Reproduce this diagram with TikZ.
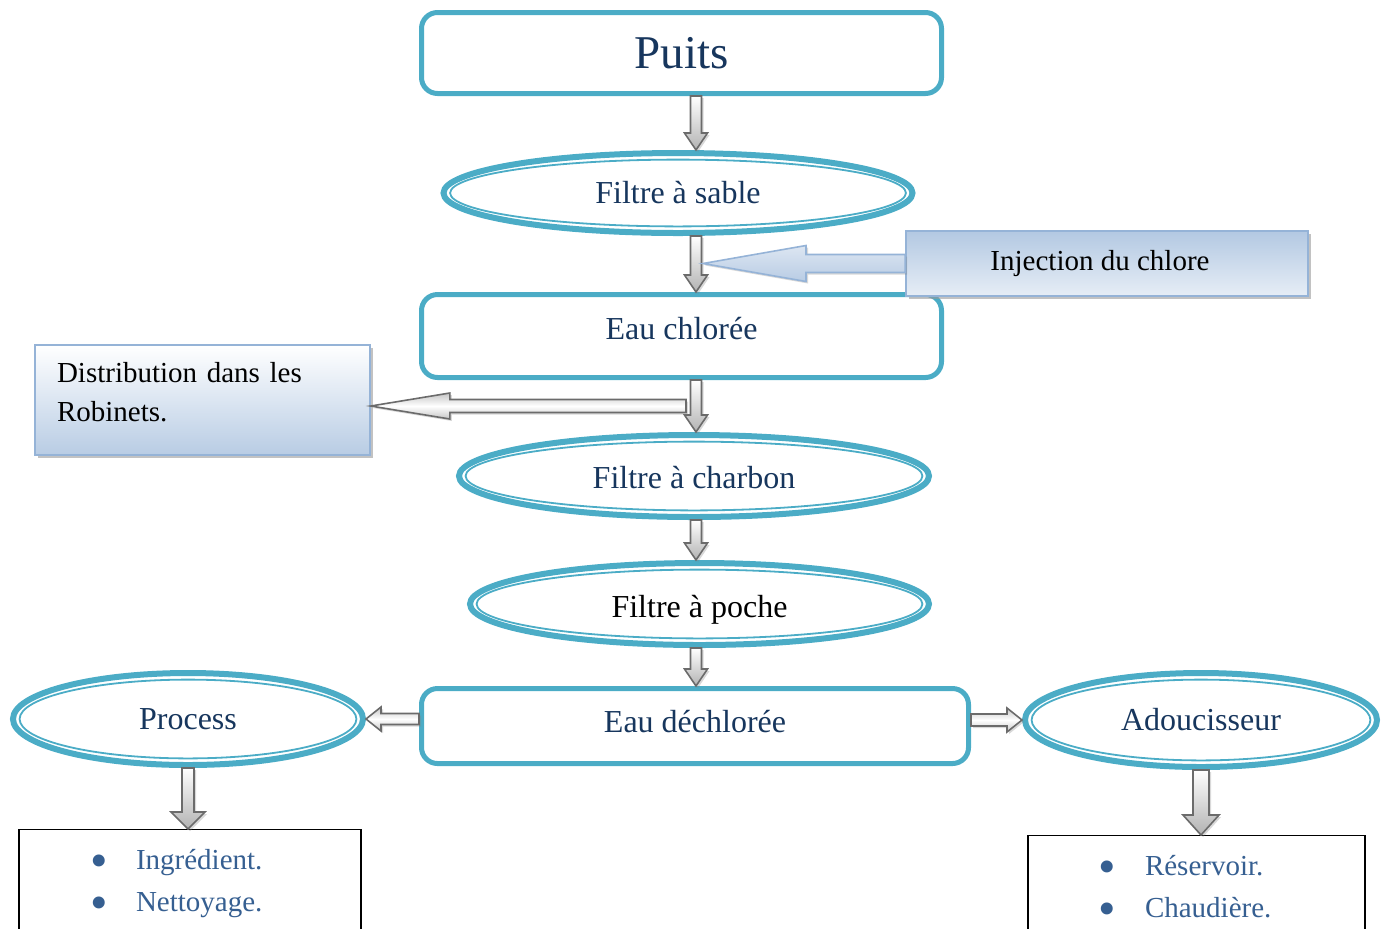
\documentclass[tikz,border=0pt]{standalone}
\usepackage{fontspec}
\setmainfont{Liberation Serif}
\usetikzlibrary{shapes.geometric,calc,shadows}
\definecolor{lineblue}{HTML}{4BACC6}
\definecolor{navytext}{HTML}{17365D}
\definecolor{listtext}{HTML}{365F91}
\definecolor{frameblue}{HTML}{95B3D7}
\definecolor{paleblue}{HTML}{DCE6F2}
\definecolor{midblue}{HTML}{B8CCE4}
\definecolor{arrowedge}{HTML}{6B6B6B}
\newcommand{\bigdot}[1]{\makebox[#1][l]{\smash{\raisebox{-4pt}{\fontsize{25}{21}\selectfont\textbullet}}}}
\tikzset{
  font=\fontsize{16}{19}\selectfont,
  box/.style={
    draw=lineblue,
    line width=2.5pt,
    rounded corners=8pt,
    text=navytext,
    inner sep=0pt
  },
  oval/.style={
    ellipse,
    draw=lineblue,
    line width=3pt,
    text=navytext,
    inner sep=0pt,
    path picture={\draw[lineblue, line width=0.9pt]
      let \p1=(path picture bounding box.north east),
          \p2=(path picture bounding box.center)
      in (\p2) ellipse ({\x1-\x2-3.3pt} and {\y1-\y2-3.3pt});}
  },
  note/.style={
    draw=frameblue,
    line width=0.8pt,
    inner sep=0pt,
    font=\fontsize{14.5}{19.5}\selectfont,
    drop shadow={shadow xshift=1.5pt, shadow yshift=-1.5pt, fill=gray!80, opacity=.6}
  },
  listbox/.style={
    draw,
    line width=0.6pt,
    align=left,
    text=listtext,
    inner ysep=10pt,
    font=\fontsize{14.5}{21}\selectfont
  },
  downarr/.style={draw=arrowedge, line width=0.8pt, top color=white, bottom color=gray!60,
    drop shadow={shadow xshift=1pt, shadow yshift=-1pt, opacity=.3}},
  sidearr/.style={draw=arrowedge, line width=0.8pt, top color=gray!45, bottom color=gray!45,
    middle color=white, drop shadow={shadow xshift=1pt, shadow yshift=-1pt, opacity=.3}},
  bluearr/.style={draw=frameblue, line width=0.8pt, top color=paleblue, bottom color=midblue,
    drop shadow={shadow xshift=1pt, shadow yshift=-1pt, opacity=.3}}
}
% block arrow: style, from, to, half shaft, half head, head length
\newcommand{\blockarrow}[6]{%
  \path[#1] ($(#3)!#6!(#2)$) coordinate (ah)
    ($(#2)!#4!90:(#3)$) -- ($(ah)!#4!90:(#3)$) -- ($(ah)!#5!90:(#3)$) -- (#3)
    -- ($(ah)!#5!-90:(#3)$) -- ($(ah)!#4!-90:(#3)$) -- ($(#2)!#4!-90:(#3)$) -- cycle;}

\begin{document}
\begin{tikzpicture}[x=0.5pt, y=-0.5pt]
\useasboundingbox (0,0) rectangle (1386,928);

% --- main line ---
\node[box, minimum width=260pt, minimum height=40.5pt,
      font=\fontsize{23.5}{28}\selectfont] (puits) at (681.5,53) {Puits};
\node[oval, minimum width=234.5pt, minimum height=40pt] (sable) at (678,193) {Filtre à sable};
\node[box, minimum width=260pt, minimum height=41.5pt, text depth=8pt] (chlore) at (681.5,336) {Eau chlorée};
\node[oval, minimum width=235pt, minimum height=41pt, text height=13pt] (charbon) at (694,476) {Filtre à charbon};
\node[oval, minimum width=229.5pt, minimum height=41pt, text=black, text height=17pt] (poche) at (699.5,604) {Filtre à poche};
\node[box, minimum width=273.5pt, minimum height=37.5pt, text depth=5pt] (dechl) at (695,726) {Eau déchlorée};

% --- side notes ---
\node[note, top color=midblue!85!frameblue, bottom color=paleblue!70,
      minimum width=201pt, minimum height=32.5pt] (inject) at (1107,263.5)
      {\hspace*{-7pt}Injection du chlore};
\node[note, top color=white, bottom color=midblue, minimum width=167.5pt, minimum height=55pt,
      text width=145.5pt, inner xsep=11pt, align=left, text depth=27.6pt] (distrib) at (202.5,400)
      {Distribution dans les\\Robinets.};

% --- users ---
\node[oval, minimum width=175pt, minimum height=46pt] (process) at (188,719) {Process};
\node[oval, minimum width=176pt, minimum height=47pt] (adouc) at (1201,720) {Adoucisseur};
\node[listbox, anchor=north, text width=100pt, inner xsep=35.5pt] (usage) at (190,829)
      {\bigdot{23pt}Ingrédient.\\\bigdot{23pt}Nettoyage.};
\node[listbox, anchor=north, text width=98.5pt, inner xsep=35pt] (stock) at (1196.5,835)
      {\bigdot{23.5pt}Réservoir.\\\bigdot{23.5pt}Chaudière.};

% --- arrows ---
\coordinate (axis) at (696,0);
\blockarrow{downarr}{puits.south -| axis}{sable.north -| axis}{2.75pt}{5.75pt}{8.5pt}
\blockarrow{downarr}{sable.south -| axis}{chlore.north -| axis}{2.75pt}{5.75pt}{8.5pt}
\blockarrow{downarr}{chlore.south -| axis}{charbon.north -| axis}{2.75pt}{5.75pt}{8.5pt}
\blockarrow{downarr}{charbon.south -| axis}{poche.north -| axis}{2.75pt}{5.75pt}{8.5pt}
\blockarrow{downarr}{poche.south -| axis}{dechl.north -| axis}{2.75pt}{5.75pt}{8.5pt}

\coordinate (injtip) at ($(axis |- inject.west)+(7,0)$);
\blockarrow{bluearr}{inject.west}{injtip}{4.5pt}{9pt}{51.5pt}

\coordinate (disttip) at ($(distrib.east)+(0,6)$);
\coordinate (distsrc) at ($(axis |- disttip)+(-10,0)$);
\blockarrow{sidearr}{distsrc}{disttip}{3.25pt}{6.5pt}{39.5pt}

\blockarrow{sidearr}{dechl.west |- process.east}{process.east}{2.75pt}{6pt}{7.5pt}
\blockarrow{sidearr}{dechl.east |- adouc.west}{adouc.west}{3pt}{6pt}{7.5pt}
\blockarrow{downarr}{process.south}{process.south |- usage.north}{3pt}{8.5pt}{8.5pt}
\blockarrow{downarr}{adouc.south}{adouc.south |- stock.north}{4pt}{9pt}{10pt}

\end{tikzpicture}
\end{document}
